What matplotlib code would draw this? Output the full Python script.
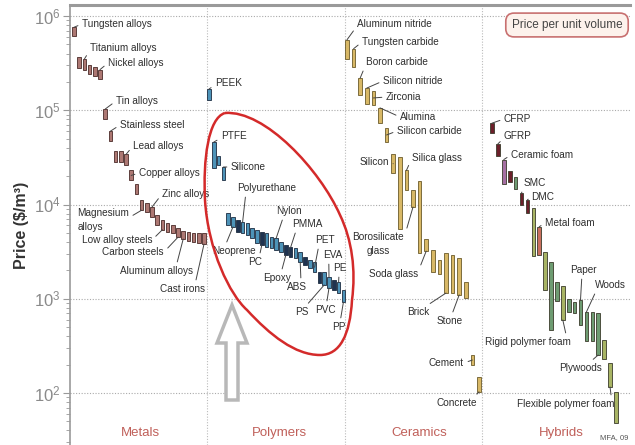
import numpy as np
import matplotlib.pyplot as plt
from matplotlib.path import Path
from matplotlib.patches import PathPatch, Polygon

W, H = 635, 445
FONT = ['Liberation Sans', 'DejaVu Sans']

# price ranges in $/m^3 (high end, low end of each bar)
metal_hi = [7.6e5, 3.7e5, 3.5e5, 3.0e5, 2.9e5, 2.7e5, 1.03e5, 6.0e4, 3.7e4, 3.7e4,
            3.4e4, 2.3e4, 1.65e4, 1.12e4, 1.04e4, 9.4e3, 7.7e3, 6.9e3, 6.4e3, 6.1e3,
            5.6e3, 5.2e3, 5.1e3, 5.0e3, 5.0e3, 5.0e3]
metal_lo = [6.1e5, 2.8e5, 2.7e5, 2.4e5, 2.3e5, 2.15e5, 8.1e4, 4.7e4, 2.8e4, 2.8e4,
            2.6e4, 1.8e4, 1.29e4, 8.7e3, 8.3e3, 7.4e3, 6.1e3, 5.4e3, 5.1e3, 5.0e3,
            4.5e3, 4.3e3, 4.1e3, 4.0e3, 3.9e3, 3.8e3]

poly_hi = [1.68e5, 4.6e4, 3.3e4, 2.5e4, 8.1e3, 7.4e3, 6.9e3, 6.5e3, 6.4e3, 5.6e3,
           5.4e3, 5.1e3, 5.0e3, 4.5e3, 4.4e3, 4.0e3, 3.7e3, 3.5e3, 3.45e3, 3.1e3,
           2.8e3, 2.6e3, 2.45e3, 1.9e3, 1.9e3, 1.7e3, 1.58e3, 1.5e3, 1.24e3]
poly_lo = [1.29e5, 2.44e4, 2.6e4, 1.8e4, 6.1e3, 5.8e3, 5.1e3, 5.0e3, 4.7e3, 4.4e3,
           3.9e3, 3.7e3, 3.5e3, 3.45e3, 3.3e3, 3.1e3, 2.9e3, 2.8e3, 2.7e3, 2.45e3,
           2.3e3, 2.1e3, 1.9e3, 1.47e3, 1.4e3, 1.3e3, 1.24e3, 1.15e3, 920]

cer_hi = [5.6e5, 4.5e5, 2.2e5, 1.72e5, 1.6e5, 1.06e5, 6.5e4, 3.4e4, 3.2e4, 2.3e4,
          1.43e4, 1.78e4, 4.3e3, 3.3e3, 2.6e3, 3.06e3, 2.9e3, 2.7e3, 1.5e3, 253, 148]
cer_lo = [3.5e5, 2.9e5, 1.45e5, 1.16e5, 1.14e5, 7.3e4, 4.6e4, 2.16e4, 5.5e3, 1.43e4,
          9.4e3, 3.06e3, 3.2e3, 1.9e3, 1.83e3, 1.15e3, 1.15e3, 1.1e3, 1.02e3, 198, 103]

hyb_hi = [7.3e4, 4.4e4, 3.0e4, 2.26e4, 1.96e4, 1.32e4, 1.12e4, 9.2e3, 5.8e3, 3.1e3,
          2.45e3, 1.5e3, 1.36e3, 993, 923, 970, 723, 723, 706, 365, 208, 103]
hyb_lo = [5.7e4, 3.3e4, 1.65e4, 1.73e4, 1.46e4, 1.0e4, 8.1e3, 2.84e3, 2.9e3, 1.24e3,
          466, 946, 596, 723, 706, 526, 357, 357, 253, 230, 116, 48]

categories = ['Metals', 'Polymers', 'Ceramics', 'Hybrids']

# bar colours
blue, navy = '#4d93b8', '#1f3350'
poly_fc = [blue] * len(poly_hi)
for i in [6, 11, 16, 17, 20, 23, 26]:
    poly_fc[i] = navy
mar, mauve, grn, oli, sal = '#6b1f2a', '#a56fa3', '#6e9c72', '#a8b464', '#c9705e'
hyb_fc = [mar, mar, mauve, mar, grn, mar, mar, oli, sal, oli, grn, grn, oli,
          grn, grn, grn, grn, grn, grn, oli, oli, oli]

groups = {
    'M': dict(x0=74, dx=5.2, hi=metal_hi, lo=metal_lo, fc='#ad7873', ec='#4a2a28'),
    'P': dict(x0=209, dx=4.8, hi=poly_hi, lo=poly_lo, fc=poly_fc, ec='#1c2c40'),
    'C': dict(x0=347, dx=6.6, hi=cer_hi, lo=cer_lo, fc='#d8b866', ec='#6b5a2a'),
    'H': dict(x0=492, dx=5.9, hi=hyb_hi, lo=hyb_lo, fc=hyb_fc, ec='#3a3a2a'),
}

# (label, group, bar index, bar end, text x px, text y px, ha, relpos)
labels = [
    ('Tungsten alloys', 'M', 0, 'hi', 82, 24, 'left', None),
    ('Titanium alloys', 'M', 2, 'hi', 90, 48, 'left', (0, 0.3)),
    ('Nickel alloys', 'M', 5, 'hi', 108, 63, 'left', None),
    ('Tin alloys', 'M', 6, 'hi', 116, 101, 'left', None),
    ('Stainless steel', 'M', 7, 'hi', 120, 125, 'left', None),
    ('Lead alloys', 'M', 10, 'hi', 133, 146, 'left', None),
    ('Copper alloys', 'M', 11, 'mid', 139, 173, 'left', None),
    ('Zinc alloys', 'M', 15, 'hi', 162, 194, 'left', None),
    ('Magnesium\nalloys', 'M', 13, 'lo', 129, 220, 'right', (1, 0.6)),
    ('Low alloy steels', 'M', 17, 'lo', 152, 240, 'right', None),
    ('Carbon steels', 'M', 20, 'lo', 164, 252, 'right', None),
    ('Aluminum alloys', 'M', 21, 'lo', 193, 271, 'right', (0.77, 1)),
    ('Cast irons', 'M', 25, 'lo', 205, 289, 'right', (0.78, 1)),
    ('PEEK', 'P', 0, 'hi', 215, 83, 'left', (0, 0.3)),
    ('PTFE', 'P', 1, 'hi', 221, 136, 'left', (0, 0.3)),
    ('Silicone', 'P', 3, 'hi', 231, 167, 'left', None),
    ('Polyurethane', 'P', 7, 'hi', 237, 188, 'left', (0.15, 0)),
    ('Neoprene', 'P', 5, 'lo', 212, 251, 'left', (0.3, 1)),
    ('PC', 'P', 11, 'lo', 248, 262, 'left', (0.8, 1)),
    ('Nylon', 'P', 14, 'hi', 276, 211, 'left', (0.3, 0)),
    ('PMMA', 'P', 17, 'hi', 292, 224, 'left', (0.15, 0)),
    ('Epoxy', 'P', 16, 'lo', 263, 278, 'left', (0.65, 1)),
    ('ABS', 'P', 19, 'lo', 287, 287, 'left', (0.7, 1)),
    ('PET', 'P', 22, 'mid', 315, 240, 'left', (0.2, 0)),
    ('EVA', 'P', 25, 'hi', 323, 255, 'left', (0.3, 0)),
    ('PE', 'P', 27, 'hi', 333, 268, 'left', (0.45, 0)),
    ('PS', 'P', 24, 'lo', 295, 312, 'left', (0.75, 1)),
    ('PVC', 'P', 25, 'lo', 315, 310, 'left', (0.55, 1)),
    ('PP', 'P', 28, 'lo', 332, 327, 'left', (0.6, 1)),
    ('Aluminum nitride', 'C', 0, 'hi', 357, 24, 'left', (0, 0.3)),
    ('Tungsten carbide', 'C', 1, 'hi', 362, 42, 'left', None),
    ('Boron carbide', 'C', 2, 'hi', 366, 62, 'left', (0, 0.3)),
    ('Silicon nitride', 'C', 3, 'hi', 383, 81, 'left', None),
    ('Zirconia', 'C', 4, 'mid', 386, 97, 'left', None),
    ('Alumina', 'C', 5, 'hi', 400, 117, 'left', None),
    ('Silicon carbide', 'C', 6, 'mid', 397, 131, 'left', None),
    ('Silicon', 'C', 7, 'mid', 389, 162, 'right', None),
    ('Silica glass', 'C', 9, 'hi', 412, 158, 'left', None),
    ('Borosilicate\nglass', 'C', 10, 'lo', 404, 244, 'right', (1, 0.75)),
    ('Soda glass', 'C', 12, 'lo', 418, 274, 'right', (1, 0.7)),
    ('Brick', 'C', 15, 'lo', 407, 312, 'left', (0.8, 1)),
    ('Stone', 'C', 17, 'lo', 437, 321, 'left', (0.55, 1)),
    ('Cement', 'C', 19, 'mid', 464, 363, 'right', None),
    ('Concrete', 'C', 20, 'lo', 436, 403, 'left', (0.93, 1)),
    ('CFRP', 'H', 0, 'hi', 504, 119, 'left', None),
    ('GFRP', 'H', 1, 'hi', 504, 136, 'left', (0, 0.3)),
    ('Ceramic foam', 'H', 2, 'hi', 511, 155, 'left', None),
    ('SMC', 'H', 5, 'hi', 524, 183, 'left', (0, 0.2)),
    ('DMC', 'H', 6, 'hi', 531, 197, 'left', None),
    ('Metal foam', 'H', 8, 'hi', 545, 223, 'left', None),
    ('Paper', 'H', 15, 'hi', 570, 270, 'left', (0.45, 0)),
    ('Woods', 'H', 16, 'hi', 595, 285, 'left', (0.05, 0)),
    ('Rigid polymer foam', 'H', 12, 'lo', 485, 342, 'left', (0.95, 1)),
    ('Plywoods', 'H', 18, 'lo', 559, 368, 'left', (0.7, 1)),
    ('Flexible polymer foam', 'H', 20, 'lo', 517, 404, 'left', (0.97, 1)),
]


def ipx(x, y):
    # image pixel (y down) -> figure fraction
    return x / W, 1 - y / H


plt.rcParams['mathtext.fontset'] = 'custom'
plt.rcParams['mathtext.rm'] = 'Liberation Sans'
plt.rcParams['mathtext.it'] = 'Liberation Sans'

fig = plt.figure(figsize=(W / 100, H / 100), dpi=100)
ax = fig.add_axes([70 / W, 0, (630 - 70) / W, 1 - 5 / H])
ax.set_yscale('log')
ax.set_xlim(70, 630)
ax.set_ylim(10 ** 1.448, 10 ** 6.117)

xs = {}
for key, g in groups.items():
    x = g['x0'] + g['dx'] * np.arange(len(g['hi']))
    xs[key] = x
    hi = np.array(g['hi'])
    lo = np.array(g['lo'])
    ax.bar(x, hi - lo, bottom=lo, width=3.6, color=g['fc'], edgecolor=g['ec'],
           linewidth=0.6, zorder=3)

for text, key, i, end, tx, ty, ha, rp in labels:
    hi = groups[key]['hi'][i]
    lo = groups[key]['lo'][i]
    yv = {'hi': hi, 'lo': lo, 'mid': np.sqrt(hi * lo)}[end]
    if rp is None:
        rp = (0, 0.5) if ha == 'left' else (1, 0.5)
    ma = 'left' if text.startswith('Magnesium') else 'center'
    ax.annotate(text, xy=(xs[key][i], yv), xytext=ipx(tx, ty),
                textcoords='figure fraction', ha=ha, va='center', ma=ma,
                fontsize=7.2, color='#2e2e2e', family=FONT, linespacing=1.45,
                arrowprops=dict(arrowstyle='-', color='#444444', lw=0.7,
                                shrinkA=1, shrinkB=0, relpos=rp),
                zorder=5, annotation_clip=False)

# grid and frame
ax.yaxis.grid(True, which='major', linestyle=(0, (1, 1.5)), color='#aaaaaa', lw=0.8)
for xb in [207, 345, 482]:
    ax.axvline(xb, linestyle=(0, (1, 1.5)), color='#bbbbbb', lw=0.8, zorder=1)
ax.set_xticks([])
for s in ['right', 'bottom']:
    ax.spines[s].set_visible(False)
ax.spines['top'].set_color('#9a9a9a')
ax.spines['top'].set_linewidth(2.2)
ax.spines['left'].set_color('#9a9a9a')
ax.spines['left'].set_linewidth(1.2)
ax.set_yticks([1e2, 1e3, 1e4, 1e5, 1e6])
ax.set_yticklabels(['$10^{%d}$' % n for n in range(2, 7)])
ax.tick_params(axis='y', which='major', length=5, color='#999999', labelcolor='#8a8a8a',
               labelsize=12, pad=2)
ax.tick_params(axis='y', which='minor', length=3, color='#999999')

fig.text(*ipx(22, 225), 'Price ($/m³)', rotation=90, ha='center', va='center',
         fontsize=11.5, fontweight='bold', family=FONT, color='#333333')

for name, cx in zip(categories, [140, 279, 419, 561]):
    fig.text(*ipx(cx, 433), name, ha='center', va='center', fontsize=9.5,
             color='#c0605a', family=FONT)

fig.text(*ipx(567, 25), 'Price per unit volume', ha='center', va='center',
         fontsize=8.5, color='#444444', family=FONT,
         bbox=dict(boxstyle='round,pad=0.5,rounding_size=0.7', fc='#fdf2ec',
                   ec='#c87070', lw=1.2))
fig.text(*ipx(600, 438), 'MFA, 09', ha='left', va='center', fontsize=5.5,
         color='#555555', family=FONT)

# hand-drawn red loop around the polymers
loop = [(225, 113), (265, 110), (320, 170), (340, 215),
        (352, 240), (356, 270), (352, 300),
        (350, 335), (340, 355), (320, 355),
        (295, 355), (270, 335), (247, 310),
        (230, 295), (208, 250), (205, 200),
        (203, 160), (208, 118), (225, 113)]
codes = [Path.MOVETO] + [Path.CURVE4] * (len(loop) - 1)
fig.add_artist(PathPatch(Path([ipx(*p) for p in loop], codes), fill=False,
                         ec='#d42a2a', lw=1.8, transform=fig.transFigure, zorder=6))

# hollow grey arrow
arrow = [(232, 305), (247, 343), (238, 343), (238, 400), (226, 400), (226, 343), (217, 343)]
fig.add_artist(Polygon([ipx(*p) for p in arrow], closed=True, fc='white', ec='#b8b8b8',
                       lw=2.5, transform=fig.transFigure, zorder=6))

fig.savefig('out.png', dpi=100)
